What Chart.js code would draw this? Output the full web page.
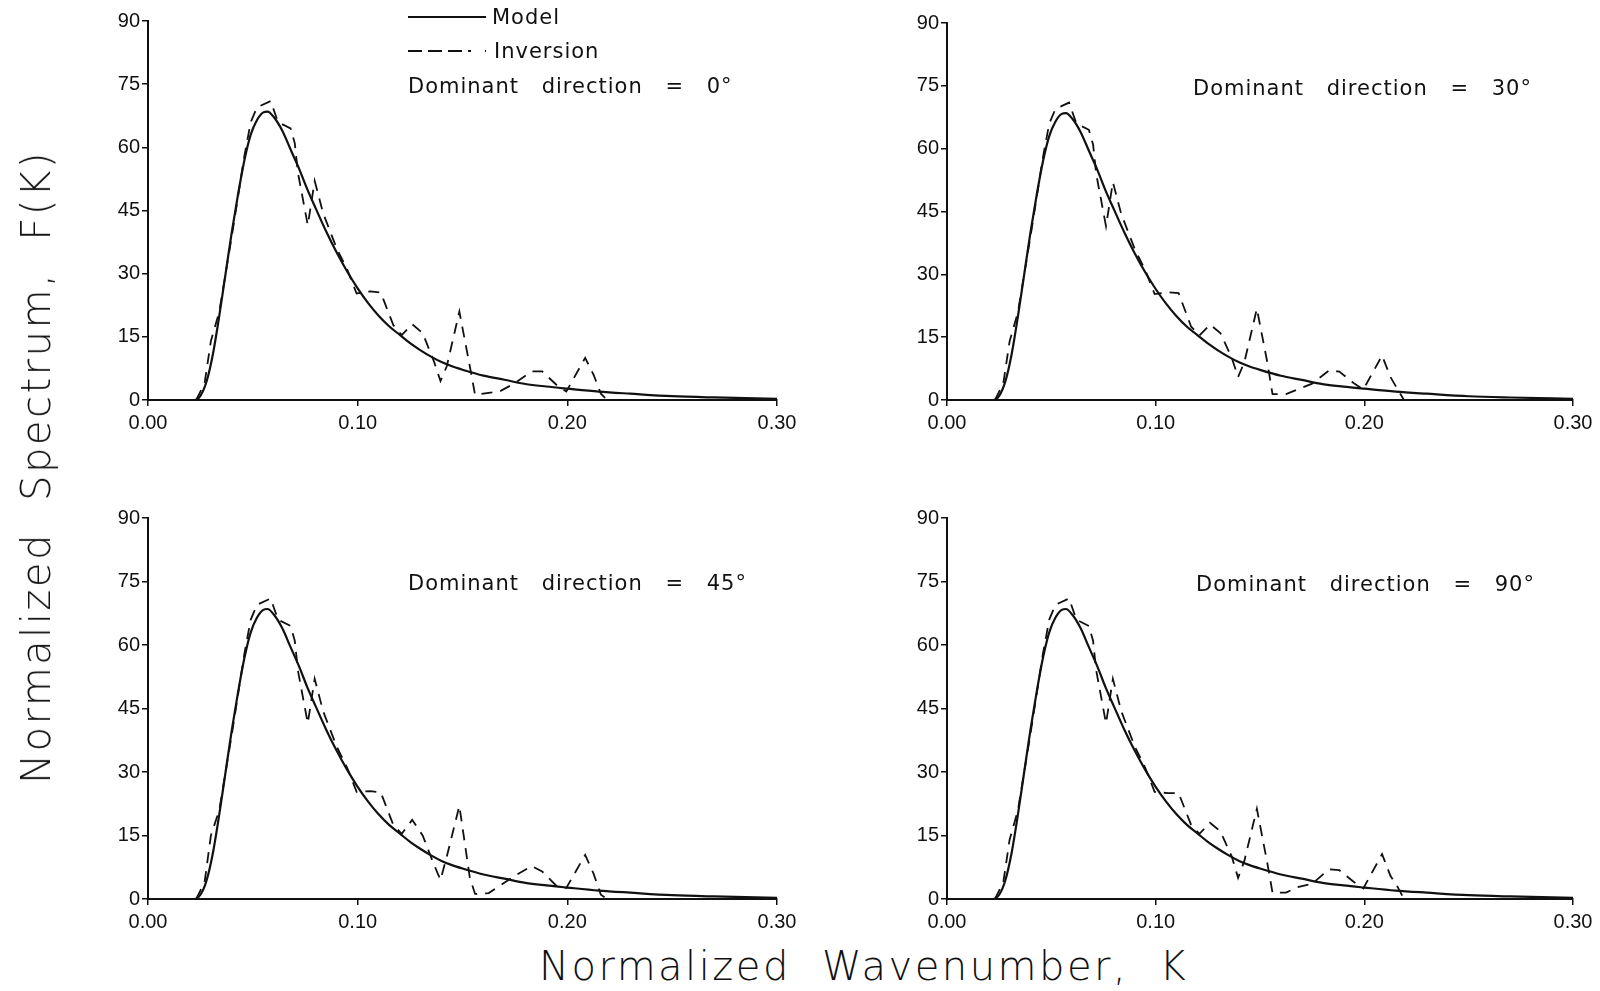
<!DOCTYPE html>
<html>
<head>
<meta charset="utf-8">
<script src="https://cdn.jsdelivr.net/npm/chart.js@4/dist/chart.umd.min.js"></script>
<style>
  body { margin: 0; background: #fff; width: 1600px; height: 991px; position: relative; overflow: hidden; }
  .panel { position: absolute; }
  .note { position: absolute; font-family: "DejaVu Sans", sans-serif; font-size: 21px; color: #111;
          letter-spacing: 1px; word-spacing: 15px; white-space: pre; line-height: 1; }
  .title { position: absolute; font-family: "DejaVu Sans", sans-serif; font-weight: 200; font-size: 40px;
           color: #111; letter-spacing: 2.5px; word-spacing: 16px; white-space: pre; line-height: 1; }
</style>
</head>
<body>
<canvas id="p0" class="panel" width="754" height="440" style="left:48px;top:0px"></canvas>
<canvas id="p30" class="panel" width="751" height="440" style="left:847px;top:0px"></canvas>
<canvas id="p45" class="panel" width="754" height="444" style="left:48px;top:495px"></canvas>
<canvas id="p90" class="panel" width="751" height="444" style="left:847px;top:495px"></canvas>

<svg style="position:absolute;left:406px;top:8px" width="82" height="54">
  <line x1="2" y1="9" x2="80" y2="9" stroke="#111" stroke-width="2"/>
  <line x1="2" y1="43" x2="80" y2="43" stroke="#111" stroke-width="2" stroke-dasharray="14 6 14 6 14 6 3"/>
</svg>
<div class="note" style="left:492px;top:7px">Model</div>
<div class="note" style="left:494px;top:41px">Inversion</div>

<div class="note" style="left:408px;top:76px">Dominant direction = 0°</div>
<div class="note" style="left:1193px;top:78px">Dominant direction = 30°</div>
<div class="note" style="left:408px;top:573px">Dominant direction = 45°</div>
<div class="note" style="left:1196px;top:574px">Dominant direction = 90°</div>

<div class="title" style="left:539px;top:946px">Normalized Wavenumber, K</div>
<div class="title" style="left:36px;top:467px;transform:translate(-50%,-50%) rotate(-90deg);transform-origin:center">Normalized Spectrum, F(K)</div>

<script>
// model spectrum (same in every panel)
var modelK = [0.020, 0.022, 0.025, 0.028, 0.031, 0.034, 0.037, 0.040, 0.043, 0.046, 0.049, 0.052, 0.055, 0.057,
  0.060, 0.064, 0.068, 0.072, 0.076, 0.080, 0.085, 0.090, 0.095, 0.100, 0.105, 0.110, 0.115, 0.120, 0.125,
  0.130, 0.135, 0.140, 0.145, 0.150, 0.160, 0.170, 0.180, 0.190, 0.200, 0.215, 0.230, 0.250, 0.270, 0.300];
var modelF = [0, 0, 1, 4.5, 11, 20, 30, 40, 49, 57, 63, 66.5, 68.3, 68.5,
  67.2, 64, 59.5, 55, 50, 45.5, 40, 35, 30.5, 26.5, 23, 20, 17.5, 15.5, 13.5,
  11.8, 10.3, 9, 8, 7.2, 5.8, 4.8, 3.8, 3.2, 2.7, 2, 1.5, 0.9, 0.6, 0.3];

// inversion results, one series per dominant direction
var invK = [0.023, 0.027, 0.030, 0.034, 0.040, 0.046, 0.049, 0.052, 0.0585, 0.062, 0.068, 0.070, 0.0715,
  0.0762, 0.0795, 0.0835, 0.090, 0.095, 0.0995, 0.106, 0.111, 0.117, 0.121, 0.126, 0.131, 0.1365, 0.1395,
  0.1425, 0.1485, 0.1535, 0.156, 0.1625, 0.168, 0.175, 0.183, 0.188, 0.195, 0.1995, 0.2085, 0.2125, 0.216,
  0.219, 0.300];
var invF0 = [0, 4, 14, 21, 39, 58, 66, 69.5, 71, 66, 64.5, 61, 54, 41.5, 52, 44.4, 36, 31, 25.3, 25.8, 25.5,
  17.8, 15.4, 18, 15.9, 9, 4.5, 8, 21, 8, 1.2, 1.7, 2.1, 4, 6.8, 6.8, 3.5, 2, 10, 6, 1.5, 0, 0];
var invF30 = [0, 4, 14, 21, 39, 58, 66, 69.5, 71, 66, 64.5, 61, 54, 41.5, 52, 44.4, 36, 31, 25.3, 25.7, 25.5,
  17.5, 15.4, 18, 16, 10, 5.5, 9, 21.8, 9, 1.4, 1.4, 2.5, 3.9, 7, 6.8, 4, 2.5, 10.6, 5.5, 2.5, 0, 0];
var invF45 = [0, 4, 15, 21, 39, 58, 66, 69.5, 71, 66, 64.5, 61, 54, 41.5, 52, 44.4, 36, 31, 25.3, 25.5, 25.2,
  17.5, 15.4, 18.7, 15, 8, 4.5, 10, 22, 5, 1.2, 1.4, 3.2, 5.5, 7.8, 6.5, 3, 2.6, 10.4, 6, 1, 0, 0];
var invF90 = [0, 4, 14, 21, 39, 58, 66, 69.5, 71, 66, 64.5, 61, 54, 41.5, 52, 44.4, 36, 31, 25.3, 25, 25,
  17.5, 15.4, 18, 16, 10, 5, 9, 21.3, 8.5, 1.5, 1.5, 2.8, 3.6, 7, 6.8, 4, 2.5, 10.6, 5.5, 2.8, 0, 0];

var xTicks = [0, 0.1, 0.2, 0.3];
var yTicks = [0, 15, 30, 45, 60, 75, 90];

function pairs(xs, ys) {
  return xs.map(function (x, i) { return { x: x, y: ys[i] }; });
}

var tickFont = { family: "Liberation Sans", size: 20 };

function makePanel(id, invF, topPad) {
  var ctx = document.getElementById(id).getContext("2d");
  return new Chart(ctx, {
    type: "line",
    data: {
      datasets: [
        {
          label: "Model",
          data: pairs(modelK, modelF),
          borderColor: "#111",
          borderWidth: 2.2,
          pointRadius: 0,
          cubicInterpolationMode: "monotone",
        },
        {
          label: "Inversion",
          data: pairs(invK, invF),
          borderColor: "#111",
          borderWidth: 1.8,
          borderDash: [11, 8],
          pointRadius: 0,
          tension: 0,
        },
      ],
    },
    options: {
      responsive: false,
      animation: false,
      layout: { padding: { top: topPad, right: 25, left: 0, bottom: 0 } },
      plugins: { legend: { display: false }, tooltip: { enabled: false } },
      scales: {
        x: {
          type: "linear",
          min: 0,
          max: 0.3,
          afterFit: function (s) { s.height = 40; },
          afterBuildTicks: function (s) { s.ticks = xTicks.map(function (v) { return { value: v }; }); },
          ticks: {
            color: "#111",
            font: tickFont,
            padding: 5,
            maxRotation: 0,
            callback: function (v) { return v.toFixed(2); },
          },
          grid: { drawOnChartArea: false, color: "#111", tickLength: 6, lineWidth: 1.5 },
          border: { color: "#111", width: 2 },
        },
        y: {
          min: 0,
          max: 90,
          afterFit: function (s) { s.width = 100; },
          afterBuildTicks: function (s) { s.ticks = yTicks.map(function (v) { return { value: v }; }); },
          ticks: { color: "#111", font: tickFont, padding: 2 },
          grid: { drawOnChartArea: false, color: "#111", tickLength: 6, lineWidth: 1.5 },
          border: { color: "#111", width: 2 },
        },
      },
    },
  });
}

makePanel("p0", invF0, 21);
makePanel("p30", invF30, 23);
makePanel("p45", invF45, 23);
makePanel("p90", invF90, 23);
</script>
</body>
</html>
